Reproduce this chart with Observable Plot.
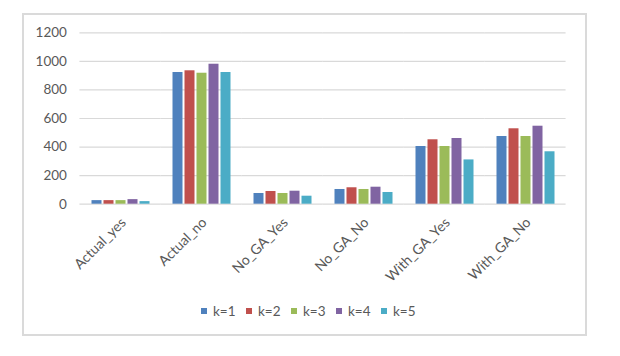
<!DOCTYPE html>
<html>
<head>
<meta charset="utf-8">
<script src="https://cdn.jsdelivr.net/npm/d3@7"></script>
<script src="https://cdn.jsdelivr.net/npm/@observablehq/plot@0.6"></script>
<style>
  html, body { margin: 0; padding: 0; background: #fff; }
  body { width: 620px; height: 356px; position: relative; overflow: hidden; font-family: Lato, sans-serif; }
  #frame { position: absolute; left: 22px; top: 13px; width: 561px; height: 319px; border: 2px solid #dadada; box-sizing: content-box; }
  #chart { position: absolute; left: 0; top: 0; }
  #legend { position: absolute; left: 201px; top: 303px; display: flex; font-size: 13.5px; color: #595959; }
  #legend .item { display: flex; align-items: center; width: 45px; height: 16px; }
  #legend .sw { width: 6px; height: 6px; margin-right: 6px; }
</style>
</head>
<body>
<div id="frame"></div>
<div id="chart"></div>
<div id="legend"></div>
<script>
const categories = ["Actual_yes", "Actual_no", "No_GA_Yes", "No_GA_No", "With_GA_Yes", "With_GA_No"];
const series = ["k=1", "k=2", "k=3", "k=4", "k=5"];
const k1 = [25, 922, 75, 103, 404, 474];
const k2 = [25, 934, 89, 115, 451, 528];
const k3 = [25, 917, 75, 103, 404, 474];
const k4 = [32, 980, 91, 119, 460, 546];
const k5 = [18, 922, 56, 82, 310, 367];
const colors = ["#4F81BD", "#C0504D", "#9BBB59", "#8064A2", "#4BACC6"];
const yTicks = [0, 200, 400, 600, 800, 1000, 1200];

const seriesValues = [k1, k2, k3, k4, k5];
const data = categories.flatMap((c, i) => series.map((s, j) => ({cat: c, k: s, value: seriesValues[j][i]})));

const W = 620, H = 290, ML = 78.5, MR = 53, MT = 32.3, MB = 86.3;
const fxPad = 0.235, fxOuter = 0.1175;
const step = (W - ML - MR) / (categories.length - fxPad + 2 * fxOuter);
const halfGap = step * fxOuter;

const chart = Plot.plot({
  width: W, height: H,
  marginLeft: ML, marginRight: MR, marginTop: MT, marginBottom: MB,
  style: {fontFamily: "Lato, sans-serif", fontSize: "13px", color: "#595959", background: "transparent"},
  fx: {domain: categories, padding: fxPad, paddingOuter: fxOuter, label: null},
  x: {domain: series, padding: 0.2, paddingOuter: 0.1, axis: null},
  y: {domain: [0, 1200], label: null},
  color: {domain: series, range: colors},
  marks: [
    Plot.ruleY(yTicks, {stroke: "#d9d9d9", strokeWidth: 1.2, insetLeft: -halfGap, insetRight: -halfGap}),
    Plot.barY(data, {fx: "cat", x: "k", y: "value", fill: "k"}),
    Plot.axisY(yTicks, {tickSize: 0, tickPadding: 13 + halfGap, tickFormat: d => String(d), label: null, fill: "#595959", fontSize: 13.5}),
    Plot.axisFx({anchor: "bottom", tickRotate: -45, tickSize: 0, tickPadding: 16, dx: 3, label: null, fill: "#595959", fontSize: 14})
  ]
});
document.getElementById("chart").appendChild(chart);

const legend = document.getElementById("legend");
series.forEach((s, i) => {
  const item = document.createElement("div");
  item.className = "item";
  const sw = document.createElement("span");
  sw.className = "sw";
  sw.style.background = colors[i];
  const t = document.createElement("span");
  t.textContent = s;
  item.appendChild(sw);
  item.appendChild(t);
  legend.appendChild(item);
});
</script>
</body>
</html>
